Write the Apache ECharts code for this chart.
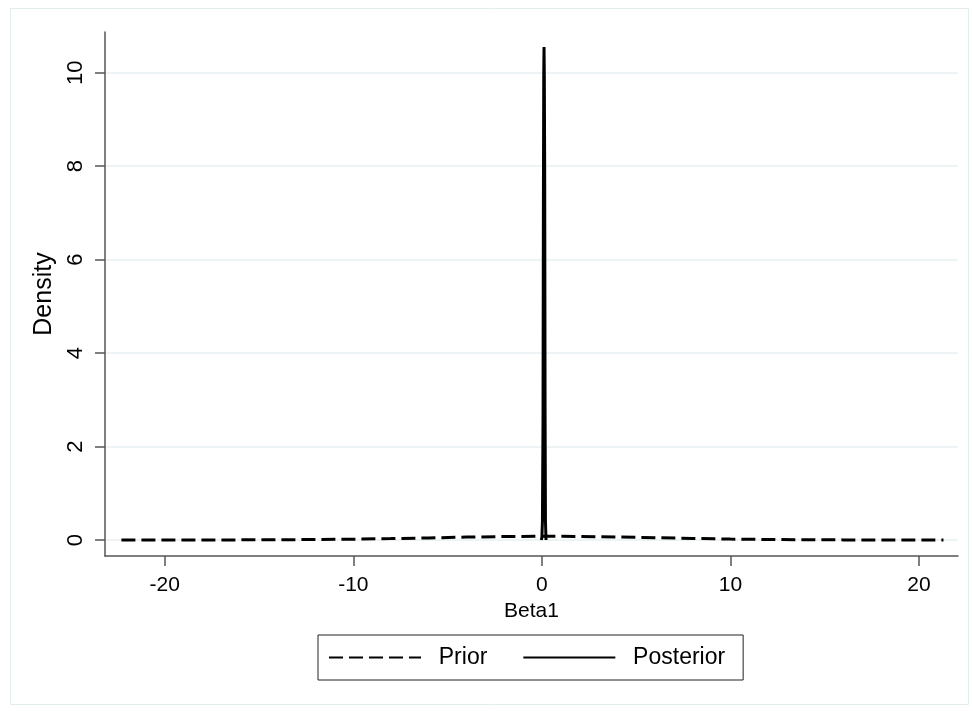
<!DOCTYPE html>
<html>
<head>
<meta charset="utf-8">
<script src="https://cdn.jsdelivr.net/npm/echarts@6/dist/echarts.min.js"></script>
<style>
html,body{margin:0;padding:0;background:#fff;}
#chart{width:973px;height:711px;}
</style>
</head>
<body>
<div id="chart"></div>
<script>
// Data
const priorX = [-22.3, -20, -18, -16, -14, -12, -10, -8, -6, -4, -2, 0, 2, 4, 6, 8, 10, 12, 14, 16, 18, 20, 21.3];
const priorY = [0.0004, 0.0008, 0.0016, 0.003, 0.006, 0.011, 0.018, 0.03, 0.045, 0.062, 0.075, 0.08, 0.077, 0.065, 0.05, 0.033, 0.02, 0.011, 0.006, 0.003, 0.0015, 0.0008, 0.0005];
const postX = [-0.03, 0.0, 0.03, 0.06, 0.08, 0.10, 0.115, 0.13, 0.15, 0.17, 0.19, 0.22];
const postY = [0.0, 0.05, 0.4, 2.5, 7.0, 10.0, 10.55, 9.9, 7.8, 2.8, 0.4, 0.0];
const xTicks = [-20, -10, 0, 10, 20];
const yTicks = [0, 2, 4, 6, 8, 10];
const seriesNames = ['Prior', 'Posterior'];

const font = 'Liberation Sans, Arial, Helvetica, sans-serif';
const chart = echarts.init(document.getElementById('chart'));
const zip = (xs, ys) => xs.map((x, i) => [x, ys[i]]);

chart.setOption({
  animation: false,
  backgroundColor: '#fff',
  graphic: [{
    type: 'rect', left: 8, top: 6, shape: {width: 958, height: 696},
    style: {fill: 'none', stroke: '#e4eded', lineWidth: 1}, silent: true
  }],
  grid: {left: 105, right: 15, top: 32, bottom: 155},
  legend: {
    left: 318, top: 635,
    itemWidth: 92, itemHeight: 14, itemGap: 35,
    padding: [11, 18, 11, 10],
    borderColor: '#222', borderWidth: 1, borderRadius: 0,
    textStyle: {fontFamily: font, fontSize: 23, color: '#000'},
    itemStyle: {color: 'rgba(0,0,0,0)', borderColor: 'rgba(0,0,0,0)', borderWidth: 0},
    formatter: n => '  ' + n,
    data: seriesNames
  },
  xAxis: {
    type: 'value', min: -23.17, max: 22.07,
    name: 'Beta1', nameLocation: 'middle', nameGap: 44,
    nameTextStyle: {fontFamily: font, fontSize: 21, color: '#000'},
    axisLine: {onZero: false, lineStyle: {color: '#555', width: 1.5}},
    axisTick: {show: true, length: 10, customValues: xTicks, lineStyle: {color: '#555', width: 1.5}},
    axisLabel: {customValues: xTicks, margin: 19, fontFamily: font, fontSize: 21, color: '#000'},
    splitLine: {show: false}
  },
  yAxis: {
    type: 'value', min: -0.342, max: 10.87,
    name: 'Density', nameLocation: 'middle', nameGap: 43, nameRotate: 90,
    nameTextStyle: {fontFamily: font, fontSize: 25, color: '#000'},
    axisLine: {onZero: false, lineStyle: {color: '#555', width: 1.5}},
    axisTick: {show: true, length: 10, customValues: yTicks, lineStyle: {color: '#555', width: 1.5}},
    axisLabel: {customValues: yTicks, rotate: 90, margin: 18, fontFamily: font, fontSize: 22, color: '#000'},
    splitLine: {show: true, lineStyle: {color: '#e8f0f2', width: 1.5}}
  },
  series: [
    {
      name: seriesNames[0], type: 'line', data: zip(priorX, priorY),
      showSymbol: false, symbol: 'none', smooth: false,
      lineStyle: {color: '#000', width: 3, type: [14, 6]},
      itemStyle: {color: '#000'}
    },
    {
      name: seriesNames[1], type: 'line', data: zip(postX, postY),
      showSymbol: false, symbol: 'none',
      lineStyle: {color: '#000', width: 3, type: 'solid'},
      itemStyle: {color: '#000'}
    }
  ]
});
</script>
</body>
</html>
